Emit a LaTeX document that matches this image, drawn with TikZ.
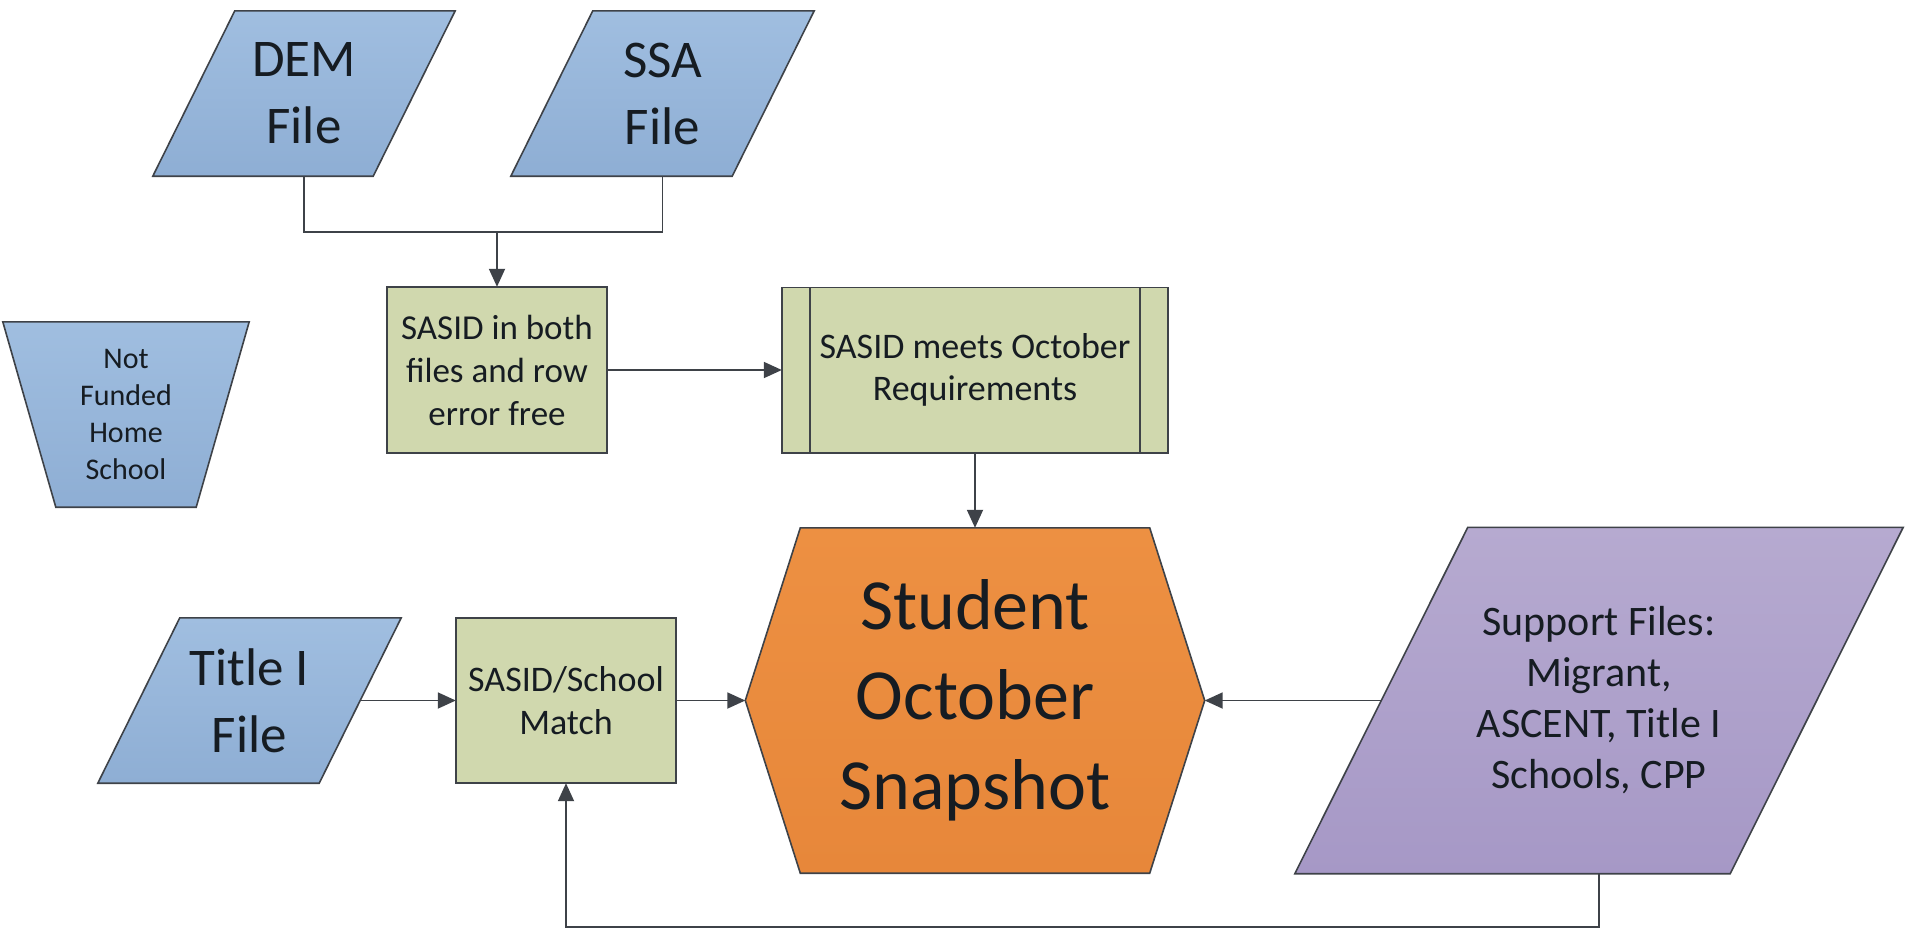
\documentclass[tikz,border=0pt]{standalone}
\usepackage{fontspec}
\setmainfont{Carlito}
\usetikzlibrary{backgrounds,arrows.meta,calc}
\definecolor{bluetop}{RGB}{160,190,224}
\definecolor{bluebot}{RGB}{142,174,212}
\definecolor{greenfill}{RGB}{208,216,174}
\definecolor{orangetop}{RGB}{237,144,66}
\definecolor{orangebot}{RGB}{231,135,58}
\definecolor{purpletop}{RGB}{182,170,208}
\definecolor{purplebot}{RGB}{166,152,198}
\definecolor{edgegray}{RGB}{62,66,72}
\definecolor{txt}{RGB}{22,28,34}
\begin{document}
\begin{tikzpicture}[x=1pt,y=-1pt,
  box/.style={draw=none, inner sep=0pt, align=center, text=txt},
  conn/.style={draw=edgegray, line width=1.8pt},
  arr/.style={conn, -{Triangle[length=18pt,width=16pt]}},
  outline/.style={draw=edgegray, line width=1.6pt, line join=miter},
  bluefill/.style={outline, top color=bluetop, bottom color=bluebot},
  greenbox/.style={outline, fill=greenfill},
  orangefill/.style={outline, top color=orangetop, bottom color=orangebot},
  purplefill/.style={outline, top color=purpletop, bottom color=purplebot}
]
\useasboundingbox (0,0) rectangle (1905,929);

% ---- nodes (text) ----
\node[box, minimum width=302pt, minimum height=165pt, font=\fontsize{53}{67}\selectfont] (dem) at (304,93.5) {DEM\\File};
\node[box, minimum width=303pt, minimum height=165pt, font=\fontsize{53}{67}\selectfont] (ssa) at (662.5,93.5) {SSA\\File};
\node[box, minimum width=246pt, minimum height=185pt, font=\fontsize{30}{37}\selectfont] (notfunded) at (126,414.5) {Not\\Funded\\Home\\School};
\node[box, minimum width=220pt, minimum height=166pt, font=\fontsize{35}{43}\selectfont] (sasid) at (497,370) {SASID in both\\files and row\\error free};
\node[box, minimum width=386pt, minimum height=165pt, font=\fontsize{36}{42}\selectfont] (oct) at (975,370) {SASID meets October\\Requirements};
\node[box, minimum width=459pt, minimum height=345pt, font=\fontsize{72}{90}\selectfont] (hex) at (975,700.5) {Student\\October\\Snapshot};
\node[box, minimum width=303pt, minimum height=165pt, font=\fontsize{53}{67}\selectfont] (title) at (249.5,700.5) {Title I\\File};
\node[box, minimum width=220pt, minimum height=165pt, font=\fontsize{36}{43}\selectfont] (school) at (566,700.5) {SASID/School\\Match};
\node[box, minimum width=608pt, minimum height=346pt, font=\fontsize{42}{51}\selectfont] (support) at (1599,700.5) {Support Files:\\Migrant,\\ASCENT, Title I\\Schools, CPP};

% ---- shapes (behind text) ----
\begin{scope}[on background layer]
\fill[white] (0,0) rectangle (1905,929);
\path[bluefill] (dem.south west) -- ([xshift=-82pt]dem.south east) -- (dem.north east) -- ([xshift=82pt]dem.north west) -- cycle;
\path[bluefill] (ssa.south west) -- ([xshift=-82pt]ssa.south east) -- (ssa.north east) -- ([xshift=82pt]ssa.north west) -- cycle;
\path[bluefill] (title.south west) -- ([xshift=-82pt]title.south east) -- (title.north east) -- ([xshift=82pt]title.north west) -- cycle;
\path[bluefill] (notfunded.north west) -- (notfunded.north east) -- ([xshift=-53pt]notfunded.south east) -- ([xshift=53pt]notfunded.south west) -- cycle;
\path[purplefill] (support.south west) -- ([xshift=-173pt]support.south east) -- (support.north east) -- ([xshift=173pt]support.north west) -- cycle;
\path[orangefill] ([xshift=55pt]hex.north west) -- ([xshift=-55pt]hex.north east) -- (hex.east) -- ([xshift=-55pt]hex.south east) -- ([xshift=55pt]hex.south west) -- (hex.west) -- cycle;
\path[greenbox] (sasid.south west) rectangle (sasid.north east);
\path[greenbox] (school.south west) rectangle (school.north east);
\path[greenbox] (oct.south west) rectangle (oct.north east);
\draw[outline] ([xshift=28pt]oct.north west) -- ([xshift=28pt]oct.south west);
\draw[outline] ([xshift=-28pt]oct.north east) -- ([xshift=-28pt]oct.south east);
\end{scope}

% ---- connectors ----
\coordinate (join) at ($(sasid.north)+(0,-55)$);
\draw[conn] (dem.south) |- (join) -| (ssa.south);
\draw[arr] (join) -- (sasid.north);
\draw[arr] (sasid.east) -- (oct.west);
\draw[arr] (oct.south) -- (hex.north);
\draw[arr] ([xshift=-41pt]title.east) -- (school.west);
\draw[arr] (school.east) -- (hex.west);
\draw[arr] ([xshift=86.5pt]support.west) -- (hex.east);
\coordinate (bottomturn) at ($(support.south)+(0,53.5)$);
\draw[arr] (support.south) -- (bottomturn) -| (school.south);
\end{tikzpicture}
\end{document}
